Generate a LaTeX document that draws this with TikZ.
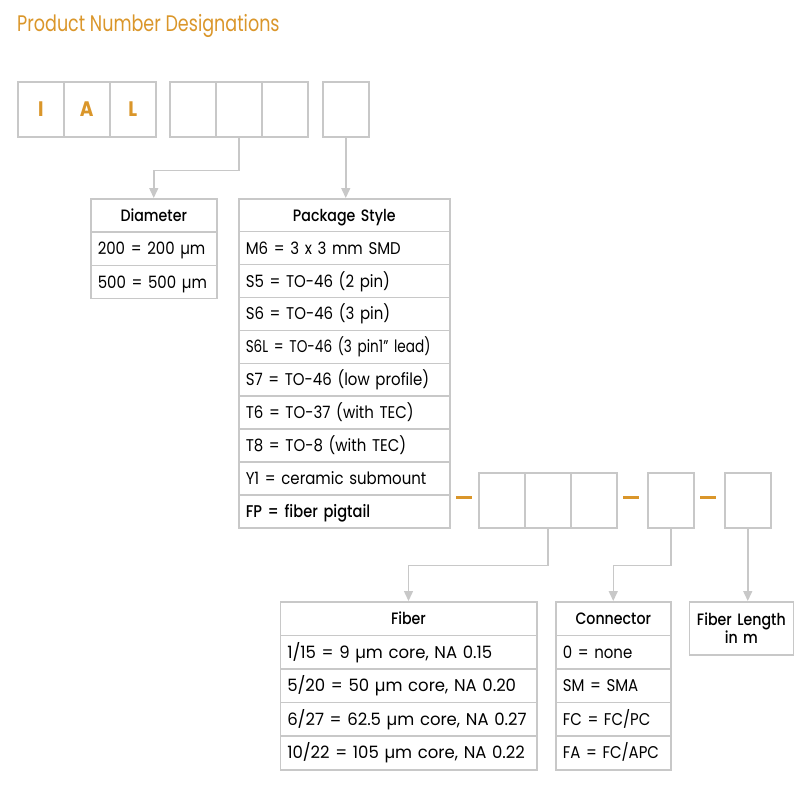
\documentclass[tikz,border=0pt]{standalone}
\usepackage{fontspec}
\setmainfont{Poppins}[FakeStretch=0.88]
\newfontfamily\pnmed{Poppins Medium}[FakeStretch=0.86]
\newfontfamily\pntitle{Poppins}[FakeStretch=0.78]
\newfontfamily\pnnarrow{Poppins}[FakeStretch=0.8]
\newfontfamily\pnwide{Poppins}[FakeStretch=0.97]
\usetikzlibrary{arrows.meta}
\definecolor{pnorange}{RGB}{218,150,42}
\definecolor{pngray}{RGB}{200,200,200}
\tikzset{
  codebox/.style={draw=pngray, line width=1.5pt, anchor=north west, inner sep=0pt,
    minimum width=46pt, minimum height=55pt, text=pnorange, font=\fontsize{21}{23}\selectfont\bfseries},
  cell/.style={draw=pngray, line width=1.5pt, anchor=north west, inner ysep=0pt, inner xsep=7pt,
    minimum height=#1, text height=12pt, text depth=0pt, align=left, font=\fontsize{17}{19}\selectfont},
  headcell/.style={cell=#1, align=center, font=\fontsize{16.5}{18}\selectfont\pnmed},
  link/.style={draw=pngray, line width=1.5pt, -{Triangle[width=9pt,length=10pt]}},
  hyphen/.style={draw=pnorange, line width=3pt}
}
\begin{document}
\begin{tikzpicture}[x=1pt, y=-1pt]
  \useasboundingbox (0,0) rectangle (810,795);
  \node[anchor=base west, inner sep=0pt, text=pnorange, font=\fontsize{22.5}{25}\selectfont\pntitle] (title) at (17,31) {Product Number Designations};

  % code boxes, upper row
  \node[codebox] (c1) at (17,81) {I};
  \node[codebox] (c2) at (63,81) {A};
  \node[codebox] (c3) at (109,81) {L};
  \node[codebox] (c4) at (169,81) {};
  \node[codebox] (c5) at (215,81) {};
  \node[codebox] (c6) at (261,81) {};
  \node[codebox] (c7) at (322,81) {};

  % code boxes, lower row
  \node[codebox] (d1) at (478,472) {};
  \node[codebox] (d2) at (524,472) {};
  \node[codebox] (d3) at (570,472) {};
  \node[codebox] (d4) at (647,472) {};
  \node[codebox] (d5) at (724,472) {};
  \draw[hyphen] (456,497.5) -- (472,497.5);
  \draw[hyphen] (623,497.5) -- (639,497.5);
  \draw[hyphen] (700,497.5) -- (716,497.5);

  % diameter
  \node[headcell=33.3pt, text width=112pt] (dia-0) at (90,198) {Diameter};
  \foreach \t [count=\i] in {200 = 200 µm, 500 = 500 µm}
    \node[cell=33.3pt, text width=112pt] (dia-\i) at (90,{198+\i*33.3}) {\t};

  % package style
  \node[headcell=32.9pt, text width=197pt] (pkg-0) at (238,198) {Package Style};
  \foreach \t [count=\i] in {M6 = 3 x 3 mm SMD, S5 = TO-46 (2 pin), S6 = TO-46 (3 pin),
      {\pnnarrow S6L = TO-46 (3 pin1” lead)}, S7 = TO-46 (low profile), T6 = TO-37 (with TEC),
      T8 = TO-8 (with TEC), Y1 = ceramic submount, {\pnmed FP = fiber pigtail}}
    \node[cell=32.9pt, text width=197pt] (pkg-\i) at (238,{198+\i*32.9}) {\t};

  % fiber
  \node[headcell=33.6pt, text width=242.5pt] (fib-0) at (279.5,601) {Fiber};
  \foreach \t [count=\i] in {{1/15 = 9 µm core, NA 0.15}, {5/20 = 50 µm core, NA 0.20},
      {6/27 = 62.5 µm core, NA 0.27}, {10/22 = 105 µm core, NA 0.22}}
    \node[cell=33.6pt, text width=242.5pt] (fib-\i) at (279.5,{601+\i*33.6}) {\pnwide\t};

  % connector
  \node[headcell=33.6pt, text width=101pt] (con-0) at (555,601) {Connector};
  \foreach \t [count=\i] in {0 = none, SM = SMA, FC = FC/PC, FA = FC/APC}
    \node[cell=33.6pt, text width=101pt] (con-\i) at (555,{601+\i*33.6}) {\t};

  % fiber length
  \node[headcell=53.4pt, text width=100pt, inner xsep=2pt, text depth=18pt,
    font=\fontsize{16.5}{18}\selectfont\pnmed] (len) at (688.6,601) {Fiber Length\\in m};

  % links
  \draw[link] (c5.south) -- ++(0,33) -| (dia-0.north);
  \draw[link] (c7.south) -- (c7.south |- pkg-0.north);
  \draw[link] (d2.south) -- ++(0,37) -| (fib-0.north);
  \draw[link] (d4.south) -- ++(0,37) -| (con-0.north);
  \draw[link] (d5.south) -- (d5.south |- len.north);
\end{tikzpicture}
\end{document}
